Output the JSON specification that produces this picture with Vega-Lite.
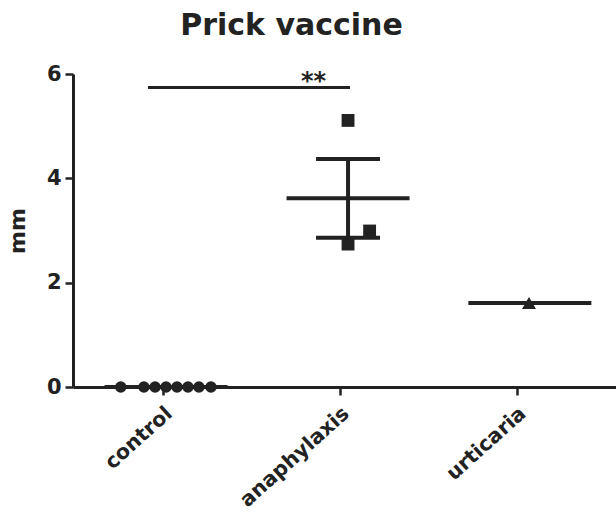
{
  "$schema": "https://vega.github.io/schema/vega-lite/v6.json",
  "width": 543,
  "height": 313,
  "autosize": "none",
  "padding": {"left": 73, "top": 74, "right": 0, "bottom": 128},
  "background": "white",
  "title": {
    "text": "Prick vaccine",
    "font": "DejaVu Sans",
    "fontSize": 30,
    "fontWeight": "bold",
    "color": "#222222",
    "anchor": "middle",
    "frame": "group",
    "dx": -53,
    "offset": 22
  },
  "config": {
    "view": {"stroke": null},
    "font": "DejaVu Sans",
    "axis": {
      "grid": false,
      "domainColor": "#222222",
      "domainWidth": 3,
      "tickColor": "#222222",
      "tickWidth": 2.5,
      "tickSize": 8,
      "labelFont": "DejaVu Sans",
      "labelFontWeight": "bold",
      "labelFontSize": 20,
      "labelColor": "#222222",
      "titleFont": "DejaVu Sans",
      "titleFontWeight": "bold",
      "titleFontSize": 22,
      "titleColor": "#222222"
    }
  },
  "datasets": {
    "points": [
      {"group": "control", "x": 0.760, "mm": 0},
      {"group": "control", "x": 0.891, "mm": 0},
      {"group": "control", "x": 0.954, "mm": 0},
      {"group": "control", "x": 1.016, "mm": 0},
      {"group": "control", "x": 1.078, "mm": 0},
      {"group": "control", "x": 1.140, "mm": 0},
      {"group": "control", "x": 1.202, "mm": 0},
      {"group": "control", "x": 1.270, "mm": 0},
      {"group": "anaphylaxis", "x": 2.045, "mm": 5.11},
      {"group": "anaphylaxis", "x": 2.167, "mm": 2.99},
      {"group": "anaphylaxis", "x": 2.045, "mm": 2.74},
      {"group": "urticaria", "x": 3.068, "mm": 1.61}
    ],
    "means": [
      {"group": "control", "x": 1.016, "mean": 0},
      {"group": "anaphylaxis", "x": 2.045, "mean": 3.62},
      {"group": "urticaria", "x": 3.073, "mean": 1.61}
    ],
    "sem": [
      {"group": "anaphylaxis", "x": 2.045, "lo": 2.86, "hi": 4.37}
    ],
    "sig": [
      {"x1": 0.914, "x2": 2.056, "y": 5.74, "xt": 1.85, "label": "**"}
    ]
  },
  "layer": [
    {
      "data": {"name": "sig"},
      "mark": {"type": "rule", "color": "#222222", "strokeWidth": 3},
      "encoding": {
        "x": {
          "field": "x1", "type": "quantitative",
          "scale": {"domain": [0.49, 3.56], "nice": false, "zero": false},
          "axis": {
            "title": null,
            "values": [1, 2, 3],
            "labelExpr": "datum.value == 1 ? 'control' : datum.value == 2 ? 'anaphylaxis' : 'urticaria'",
            "labelAngle": -42,
            "labelAlign": "right",
            "labelBaseline": "top",
            "labelFontSize": 20.5,
            "labelPadding": 8,
            "labelOffset": -1
          }
        },
        "x2": {"field": "x2"},
        "y": {
          "field": "y", "type": "quantitative",
          "scale": {"domain": [0, 6], "nice": false},
          "axis": {"title": "mm", "values": [0, 2, 4, 6], "titlePadding": 17, "labelPadding": 4, "labelFontSize": 21}
        }
      }
    },
    {
      "data": {"name": "sig"},
      "mark": {"type": "text", "color": "#222222", "fontSize": 24, "fontWeight": "bold", "baseline": "alphabetic", "dy": 1},
      "encoding": {
        "x": {"field": "xt", "type": "quantitative"},
        "y": {"field": "y", "type": "quantitative"},
        "text": {"field": "label"}
      }
    },
    {
      "data": {"name": "means"},
      "mark": {"type": "tick", "orient": "horizontal", "color": "#222222", "size": 123, "thickness": 4, "opacity": 1},
      "encoding": {
        "x": {"field": "x", "type": "quantitative"},
        "y": {"field": "mean", "type": "quantitative"}
      }
    },
    {
      "data": {"name": "sem"},
      "mark": {"type": "rule", "color": "#222222", "strokeWidth": 4},
      "encoding": {
        "x": {"field": "x", "type": "quantitative"},
        "y": {"field": "lo", "type": "quantitative"},
        "y2": {"field": "hi"}
      }
    },
    {
      "data": {"name": "sem"},
      "mark": {"type": "tick", "orient": "horizontal", "color": "#222222", "size": 64, "thickness": 4, "opacity": 1},
      "encoding": {
        "x": {"field": "x", "type": "quantitative"},
        "y": {"field": "lo", "type": "quantitative"}
      }
    },
    {
      "data": {"name": "sem"},
      "mark": {"type": "tick", "orient": "horizontal", "color": "#222222", "size": 64, "thickness": 4, "opacity": 1},
      "encoding": {
        "x": {"field": "x", "type": "quantitative"},
        "y": {"field": "hi", "type": "quantitative"}
      }
    },
    {
      "data": {"name": "points"},
      "mark": {"type": "point", "filled": true, "color": "#222222", "opacity": 1},
      "encoding": {
        "x": {"field": "x", "type": "quantitative"},
        "y": {"field": "mm", "type": "quantitative"},
        "shape": {
          "field": "group", "type": "nominal",
          "scale": {"domain": ["control", "anaphylaxis", "urticaria"], "range": ["circle", "square", "triangle-up"]},
          "legend": null
        },
        "size": {
          "field": "group", "type": "nominal",
          "scale": {"domain": ["control", "anaphylaxis", "urticaria"], "range": [135, 196, 175]},
          "legend": null
        }
      }
    }
  ]
}
